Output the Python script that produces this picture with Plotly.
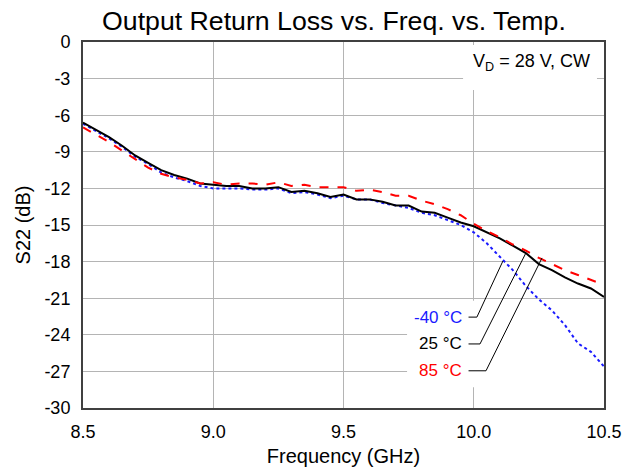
import plotly.graph_objects as go

freq = [8.50, 8.55, 8.60, 8.65, 8.70, 8.75, 8.80, 8.85, 8.90, 8.95,
        9.00, 9.05, 9.10, 9.15, 9.20, 9.25, 9.30, 9.35, 9.40, 9.45,
        9.50, 9.55, 9.60, 9.65, 9.70, 9.75, 9.80, 9.85, 9.90, 9.95,
        10.00, 10.05, 10.10, 10.15, 10.20, 10.25, 10.30, 10.35, 10.40, 10.45, 10.50]

s22_m40 = [-6.7, -7.3, -7.9, -8.6, -9.4, -10.0, -10.7, -11.1, -11.4, -11.8,
           -12.0, -12.0, -12.0, -12.1, -12.1, -12.0, -12.4, -12.3, -12.5, -12.8,
           -12.6, -12.9, -12.9, -13.2, -13.4, -13.6, -14.0, -14.2, -14.6, -15.0,
           -15.6, -16.5, -17.6, -18.7, -20.0, -21.1, -22.0, -23.2, -24.7, -25.4, -26.6]

s22_25 = [-6.6, -7.2, -7.8, -8.5, -9.3, -9.9, -10.5, -10.9, -11.2, -11.6,
          -11.7, -11.8, -11.8, -12.0, -12.0, -11.9, -12.3, -12.2, -12.4, -12.7,
          -12.5, -12.9, -12.9, -13.1, -13.4, -13.4, -13.9, -14.0, -14.4, -14.8,
          -15.1, -15.6, -16.1, -16.7, -17.3, -18.2, -18.7, -19.3, -19.8, -20.2, -20.9]

s22_85 = [-7.0, -7.6, -8.2, -8.9, -9.6, -10.3, -10.8, -11.1, -11.3, -11.6,
          -11.5, -11.7, -11.6, -11.6, -11.7, -11.5, -11.8, -11.7, -11.9, -11.9,
          -11.9, -12.2, -12.1, -12.3, -12.6, -12.6, -13.0, -13.3, -13.7, -14.2,
          -14.9, -15.5, -16.0, -16.6, -17.1, -17.7, -18.2, -18.7, -19.1, -19.5, -19.9]

x_ticks = [8.5, 9.0, 9.5, 10.0, 10.5]
x_ticktext = ["8.5", "9.0", "9.5", "10.0", "10.5"]
y_ticks = [0, -3, -6, -9, -12, -15, -18, -21, -24, -27, -30]
y_ticktext = ["0", "-3", "-6", "-9", "-12", "-15", "-18", "-21", "-24", "-27", "-30"]

labels = ["-40 °C", "25 °C", "85 °C"]
colors = ["#1a1aff", "#000000", "#ff0000"]
dashes = ["dot", "solid", "dash"]
series = [s22_m40, s22_25, s22_85]

# leader line geometry for the temperature labels (text y, elbow x, target on curve)
label_y = [-22.55, -24.75, -26.95]
elbow_x = [10.012, 10.024, 10.047]
target_x = [10.112, 10.20, 10.262]
target_y = [-17.95, -17.3, -17.7]

fig = go.Figure()

for name, ys, c, d in zip(labels, series, colors, dashes):
    fig.add_trace(go.Scatter(x=freq, y=ys, mode="lines", name=name,
                             line=dict(color=c, width=2, dash=d)))

for ly, ex, tx, ty in zip(label_y, elbow_x, target_x, target_y):
    fig.add_trace(go.Scatter(x=[9.98, ex, tx], y=[ly, ly, ty], mode="lines",
                             line=dict(color="black", width=1), hoverinfo="skip"))

for name, ly, c in zip(labels, label_y, colors):
    fig.add_annotation(x=9.962, y=ly, text=name, showarrow=False, xanchor="right",
                       font=dict(size=17, color=c))

# white boxes that hide the grid behind the labels
fig.add_shape(type="rect", x0=9.744, x1=10.5, y0=-28.3, y1=-21.2, layer="between",
              fillcolor="white", line=dict(width=0))
fig.add_shape(type="rect", x0=9.959, x1=10.473, y0=-3.93, y1=-0.25, layer="between",
              fillcolor="white", line=dict(width=0))

fig.add_annotation(x=10.22, y=-1.64, text="V<sub>D</sub> = 28 V, CW", showarrow=False,
                   font=dict(size=18, color="black"))

fig.update_layout(
    width=623, height=470,
    margin=dict(l=83, r=19, t=42, b=62, autoexpand=False),
    paper_bgcolor="white", plot_bgcolor="white",
    font=dict(family="Liberation Sans, Arial, sans-serif", color="black"),
    showlegend=False,
    title=dict(text="Output Return Loss vs. Freq. vs. Temp.", x=0.536,
               xanchor="center", y=0.955, yanchor="middle",
               font=dict(size=26.7, color="black")),
    xaxis=dict(range=[8.5, 10.5], tickvals=x_ticks, ticktext=x_ticktext, automargin=False,
               showgrid=True, gridcolor="#b4b4b4", gridwidth=1,
               showline=True, linecolor="#404040", linewidth=2, mirror=True,
               ticks="", tickfont=dict(size=18), ticklabelstandoff=6,
               title=dict(text="Frequency (GHz)", font=dict(size=20), standoff=8),
               zeroline=False),
    yaxis=dict(range=[-30, 0], tickvals=y_ticks, ticktext=y_ticktext, automargin=False,
               showgrid=True, gridcolor="#b4b4b4", gridwidth=1,
               showline=True, linecolor="#404040", linewidth=2, mirror=True,
               ticks="", tickfont=dict(size=18), ticklabelstandoff=7,
               title=dict(text="S22 (dB)", font=dict(size=20), standoff=8),
               zeroline=False),
)

# drop the default 8px page margin so the figure sits at the window corner
fig.write_html("out.html", config={"displayModeBar": False},
               post_script="document.body.style.margin='0';")
